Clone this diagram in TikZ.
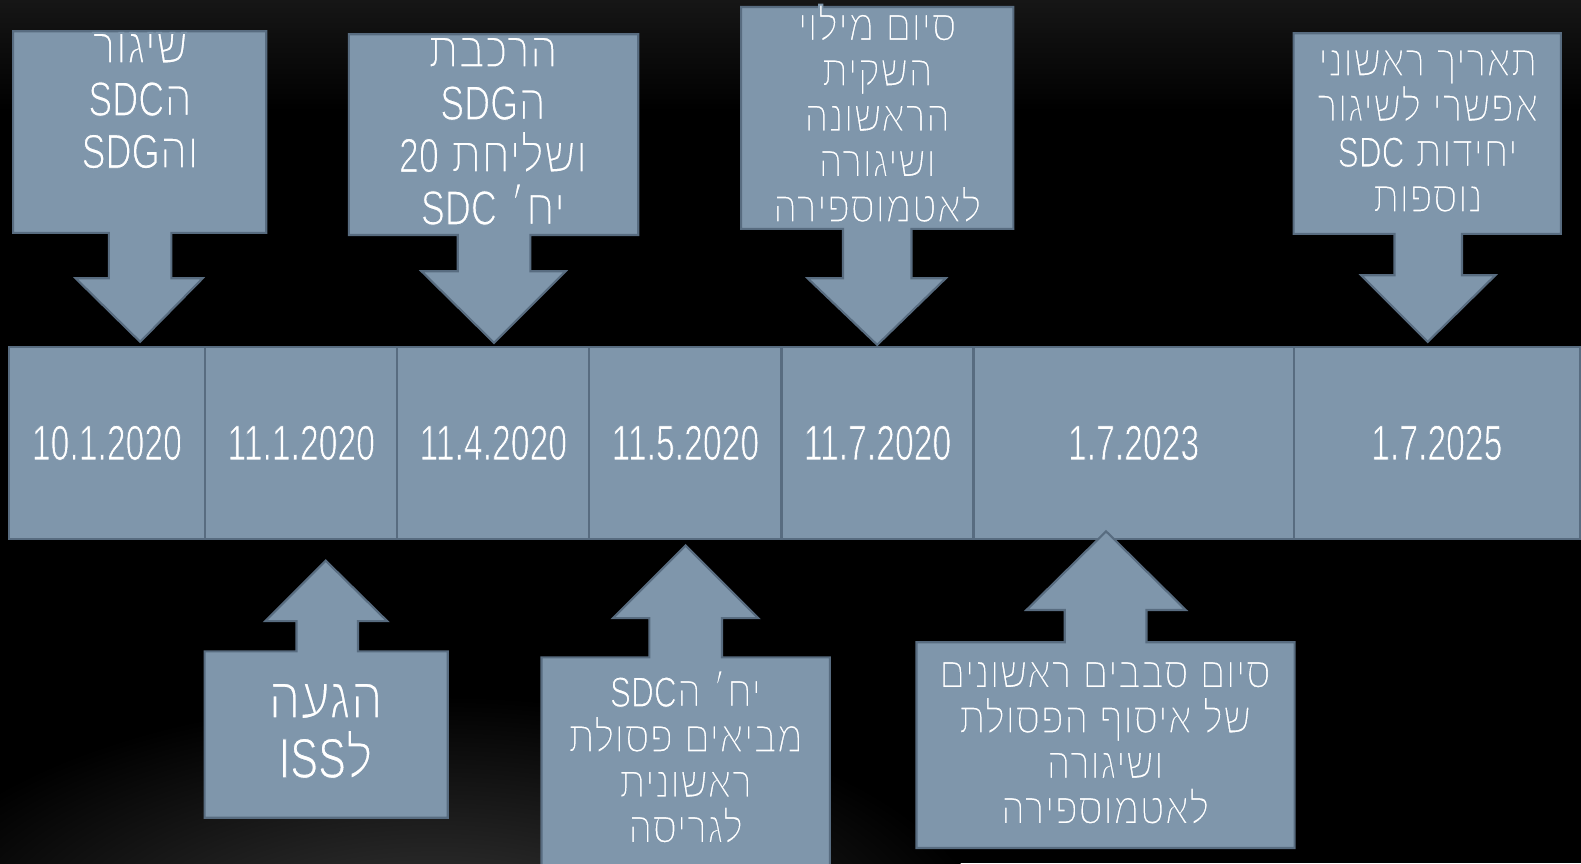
\documentclass[tikz,border=0pt]{standalone}
\usepackage{fontspec}
\setmainfont{Liberation Sans}[FakeStretch=0.68]
\newfontfamily\lat{Liberation Sans}[FakeStretch=0.74,Scale=1.1]
\newfontfamily\heb[Script=Hebrew,FakeStretch=0.86,Scale=1.15]{Liberation Sans}
\TeXXeTstate=1
\newcommand\RL[1]{\beginR #1\endR}
\newcommand\LR[1]{\beginL{\lat\special{pdf:code 0.5 w}#1\special{pdf:code 1.1 w}}\endL{}}
\newcommand\thinglyphs{\special{pdf:code 2 Tr 1.1 w 0.498 0.588 0.671 RG}}
\newcommand\thindates{\special{pdf:code 2 Tr 0.35 w 0.498 0.588 0.671 RG}}
\definecolor{boxfill}{RGB}{127,150,171}
\definecolor{boxedge}{RGB}{88,108,128}
\begin{document}
\begin{tikzpicture}[x=0.02cm,y=-0.02cm,
  callout/.style={fill=boxfill, draw=boxedge, line width=1.2pt, line join=miter},
  datecell/.style={callout, rectangle, inner sep=0pt, text=white,
    font=\fontsize{28}{32}\selectfont, minimum height=3.81cm},
  lbl/.style={text=white, align=center, inner sep=0pt},
  big/.style={font=\heb\fontsize{25}{29.6}\selectfont},
  mid/.style={font=\heb\fontsize{22}{25.6}\selectfont},
  huge/.style={font=\heb\fontsize{29}{33.6}\selectfont}]
% background
\fill[black] (0,0) rectangle (1568,856);
\shade[top color={rgb,255:red,22;green,22;blue,22}, bottom color=black] (0,0) rectangle (1568,110);
\begin{scope}
\clip (0,0) rectangle (1568,856);
\shade[inner color={rgb,255:red,60;green,60;blue,60}, outer color=black] (430,950) ellipse [x radius=560, y radius=260];
\end{scope}
\useasboundingbox (0,0) rectangle (1568,856);

% top callouts
\draw[callout] (13,31) -- (264,31) -- (264,231) -- (170,231) -- (170,276) -- (201,276) -- (139,339) -- (75,276) -- (108,276) -- (108,231) -- (13,231) -- cycle;
\draw[callout] (346,34) -- (633,34) -- (633,233) -- (526,233) -- (526,269) -- (561,269) -- (490,340) -- (418,269) -- (454,269) -- (454,233) -- (346,233) -- cycle;
\draw[callout] (735,7) -- (1005,7) -- (1005,227) -- (904,227) -- (904,276) -- (938,276) -- (870,342) -- (801,276) -- (836,276) -- (836,227) -- (735,227) -- cycle;
\draw[callout] (1283,33) -- (1548,33) -- (1548,232) -- (1450,232) -- (1450,273) -- (1483,273) -- (1416,339) -- (1350,273) -- (1383,273) -- (1383,232) -- (1283,232) -- cycle;

% timeline cells
\node[datecell, minimum width=3.898cm] (d1) at (106,439.25) {\thindates 10.1.2020};
\node[datecell, minimum width=3.81cm] (d2) at (298.75,439.25) {\thindates 11.1.2020};
\node[datecell, minimum width=3.81cm] (d3) at (489.25,439.25) {\thindates 11.4.2020};
\node[datecell, minimum width=3.81cm] (d4) at (679.75,439.25) {\thindates 11.5.2020};
\node[datecell, minimum width=3.81cm] (d5) at (870.25,439.25) {\thindates 11.7.2020};
\node[datecell, minimum width=6.35cm] (d6) at (1124.25,439.25) {\thindates 1.7.2023};
\node[datecell, minimum width=5.68cm] (d7) at (1425,439.25) {\thindates 1.7.2025};

% bottom callouts
\draw[callout] (203,811) -- (444,811) -- (444,646) -- (355,646) -- (355,616) -- (384,616) -- (323,556) -- (263,616) -- (294,616) -- (294,646) -- (203,646) -- cycle;
\draw[callout] (537,875) -- (823,875) -- (823,652) -- (716,652) -- (716,613) -- (752,613) -- (680,541) -- (608,613) -- (644,613) -- (644,652) -- (537,652) -- cycle;
\draw[callout] (909,841) -- (1284,841) -- (1284,637) -- (1137,637) -- (1137,605) -- (1176,605) -- (1097,527) -- (1018,605) -- (1056,605) -- (1056,637) -- (909,637) -- cycle;

% texts
\node[lbl, big] (t1) at (139,100) {\thinglyphs\RL{שיגור}\\\RL{ה\LR{SDC}}\\\RL{וה\LR{SDG}}};
\node[lbl, big] (t2) at (489,130) {\thinglyphs\RL{הרכבת}\\\RL{ה\LR{SDG}}\\\RL{ושליחת \LR{20}}\\\RL{יח׳ \LR{SDC}}};
\node[lbl, mid] (t3) at (870,113) {\thinglyphs\RL{סיום מילוי}\\\RL{השקית}\\\RL{הראשונה}\\\RL{ושיגורה}\\\RL{לאטמוספירה}};
\node[lbl, mid] (t4) at (1416,130) {\thinglyphs\RL{תאריך ראשוני}\\\RL{אפשרי לשיגור}\\\RL{יחידות \LR{SDC}}\\\RL{נוספות}};
\node[lbl, huge] (t5) at (323,725) {\thinglyphs\RL{הגעה}\\\RL{ל\LR{ISS}}};
\node[lbl, mid] (t6) at (680,751) {\thinglyphs\RL{יח׳ ה\LR{SDC}}\\\RL{מביאים פסולת}\\\RL{ראשונית}\\\RL{לגריסה}};
\node[lbl, mid] (t7) at (1096,737) {\thinglyphs\RL{סיום סבבים ראשונים}\\\RL{של איסוף הפסולת}\\\RL{ושיגורה}\\\RL{לאטמוספירה}};
\end{tikzpicture}
\end{document}
